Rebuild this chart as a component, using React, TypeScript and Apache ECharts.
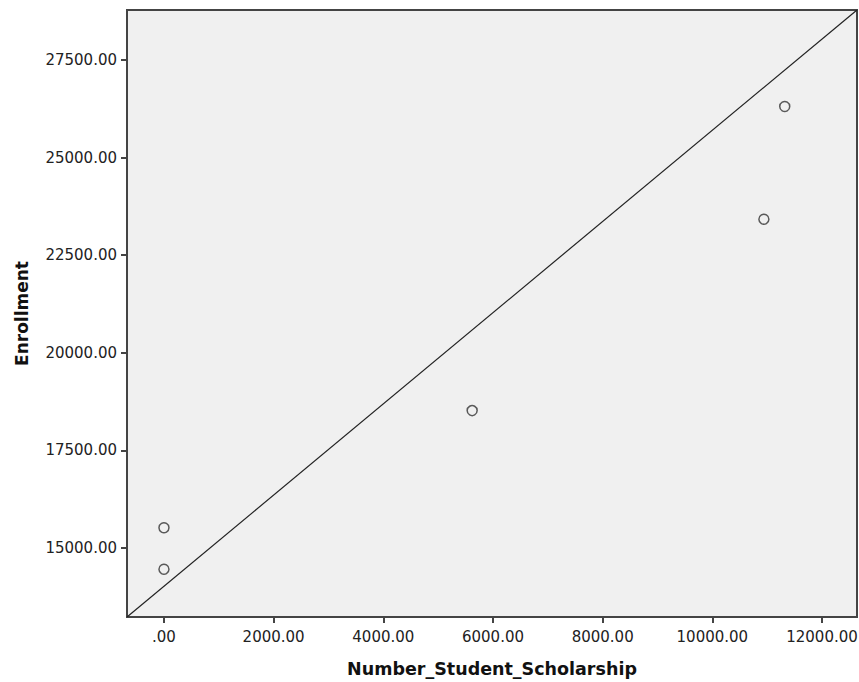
import React, { useEffect, useRef } from "react";
import * as echarts from "echarts";

const scholarship = [0, 0, 5620, 10940, 11320];
const enrollment = [15520, 14455, 18520, 23420, 26310];
const xTicks = [0, 2000, 4000, 6000, 8000, 10000, 12000];
const yTicks = [15000, 17500, 20000, 22500, 25000, 27500];
const xRange = [-674, 12638];
const yRange = [13233, 28781];

const fmt = (v: number) => (v === 0 ? ".00" : v.toFixed(2));

export default function App() {
  const ref = useRef<HTMLDivElement>(null);
  useEffect(() => {
    document.body.style.margin = "0";
    const chart = echarts.init(ref.current!, null, { renderer: "svg" });
    const font = "DejaVu Sans";
    const axisLine = { show: true, onZero: false, lineStyle: { color: "#444", width: 2 } };
    chart.setOption({
      animation: false,
      backgroundColor: "#ffffff",
      grid: {
        left: 127,
        top: 10,
        right: 2,
        bottom: 65,
        outerBoundsMode: "none",
        containLabel: false,
        show: true,
        backgroundColor: "#f0f0f0",
        borderColor: "#444444",
        borderWidth: 2,
      },
      xAxis: {
        type: "value",
        min: xRange[0],
        max: xRange[1],
        name: "Number_Student_Scholarship",
        nameLocation: "middle",
        nameGap: 43,
        nameTextStyle: { fontFamily: font, fontWeight: "bold", fontSize: 17.5, color: "#111" },
        splitLine: { show: false },
        axisLine,
        axisTick: { show: true, inside: false, length: 6, lineStyle: { color: "#444", width: 2 }, customValues: xTicks },
        axisLabel: {
          customValues: xTicks,
          formatter: fmt,
          fontFamily: font,
          fontSize: 15,
          color: "#222",
          margin: 12,
        },
      },
      yAxis: {
        type: "value",
        min: yRange[0],
        max: yRange[1],
        name: "Enrollment",
        nameLocation: "middle",
        nameGap: 97,
        nameTextStyle: { fontFamily: font, fontWeight: "bold", fontSize: 17, color: "#111" },
        splitLine: { show: false },
        axisLine,
        axisTick: { show: true, inside: false, length: 6, lineStyle: { color: "#444", width: 2 }, customValues: yTicks },
        axisLabel: {
          customValues: yTicks,
          formatter: fmt,
          fontFamily: font,
          fontSize: 15,
          color: "#222",
          margin: 10,
        },
      },
      series: [
        {
          type: "line",
          data: [
            [xRange[0], yRange[0]],
            [xRange[1], yRange[1]],
          ],
          symbol: "none",
          lineStyle: { color: "#222", width: 1.2 },
          silent: true,
        },
        {
          type: "scatter",
          data: scholarship.map((x, i) => [x, enrollment[i]]),
          symbol: "circle",
          symbolSize: 10,
          itemStyle: { color: "rgba(0,0,0,0)", borderColor: "#333", borderWidth: 1.5 },
        },
      ],
    });
    return () => chart.dispose();
  }, []);
  return <div ref={ref} style={{ width: 859, height: 682 }} />;
}
